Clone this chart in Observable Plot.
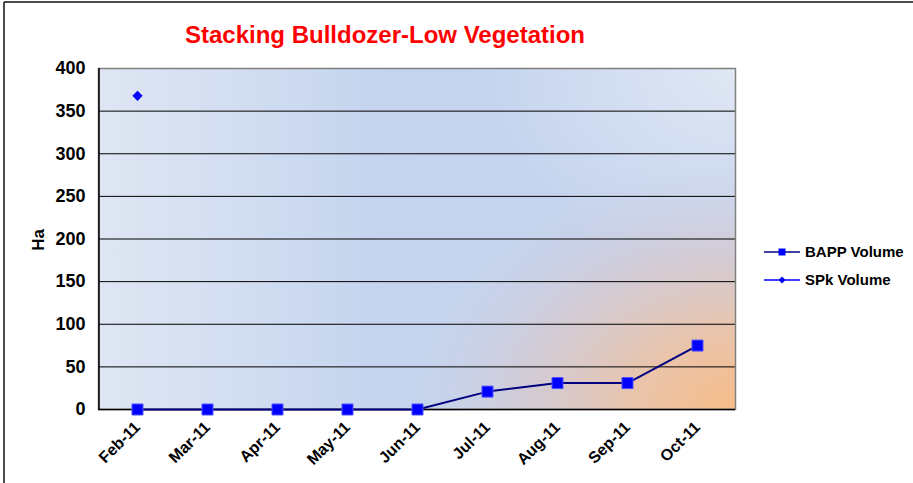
<!DOCTYPE html>
<html>
<head>
<meta charset="utf-8">
<script src="https://cdn.jsdelivr.net/npm/d3@7"></script>
<script src="https://cdn.jsdelivr.net/npm/@observablehq/plot@0.6"></script>
<style>
  html, body { margin: 0; padding: 0; background: #fff; }
  #chart svg { display: block; }
</style>
</head>
<body>
<div id="chart"></div>
<script>
const months = ["Feb-11", "Mar-11", "Apr-11", "May-11", "Jun-11", "Jul-11", "Aug-11", "Sep-11", "Oct-11"];
const bappVolume = [0, 0, 0, 0, 0, 21, 31, 31, 75];
const spkVolume = [368, null, null, null, null, null, null, null, null];
const yTicks = [0, 50, 100, 150, 200, 250, 300, 350, 400];
const seriesNames = ["BAPP Volume", "SPk Volume"];
const titleText = "Stacking Bulldozer-Low Vegetation";
const yLabel = "Ha";

const bapp = months.map((m, i) => ({month: m, value: bappVolume[i]}));
const spk = months.map((m, i) => ({month: m, value: spkVolume[i]})).filter(d => d.value != null);

const FONT = "Liberation Sans, Arial, sans-serif";

const defsMark = () => {
  const g = d3.create("svg:defs");
  const lin = g.append("linearGradient").attr("id", "bgLin").attr("x1", "0").attr("y1", "0").attr("x2", "1").attr("y2", "0");
  lin.append("stop").attr("offset", "0").attr("stop-color", "#dfe6f3");
  lin.append("stop").attr("offset", "0.45").attr("stop-color", "#c4d4ee");
  lin.append("stop").attr("offset", "1").attr("stop-color", "#c4d3ee");
  const tr = g.append("radialGradient").attr("id", "bgTR").attr("gradientUnits", "userSpaceOnUse")
    .attr("cx", 0).attr("cy", 0).attr("r", 1).attr("gradientTransform", "translate(735,68) scale(260,200)");
  tr.append("stop").attr("offset", "0").attr("stop-color", "#e0e7f4").attr("stop-opacity", 1);
  tr.append("stop").attr("offset", "1").attr("stop-color", "#e0e7f4").attr("stop-opacity", 0);
  const rad = g.append("radialGradient").attr("id", "bgRad").attr("gradientUnits", "userSpaceOnUse")
    .attr("cx", 0).attr("cy", 0).attr("r", 1).attr("gradientTransform", "translate(740,412) scale(350,260)");
  rad.append("stop").attr("offset", "0").attr("stop-color", "#f8bc86").attr("stop-opacity", 1);
  rad.append("stop").attr("offset", "0.3").attr("stop-color", "#ecc3a6").attr("stop-opacity", 0.95);
  rad.append("stop").attr("offset", "0.65").attr("stop-color", "#d6c9d0").attr("stop-opacity", 0.7);
  rad.append("stop").attr("offset", "1").attr("stop-color", "#c8d3ea").attr("stop-opacity", 0);
  return g.node();
};

const chart = Plot.plot({
  width: 913,
  height: 483,
  marginLeft: 98,
  marginRight: 178,
  marginTop: 68,
  marginBottom: 74,
  style: {fontFamily: FONT, background: "#fff"},
  x: {type: "band", domain: months, padding: 0, label: null},
  y: {domain: [0, 400], ticks: yTicks, label: null},
  marks: [
    defsMark,
    Plot.frame({fill: "url(#bgLin)", stroke: "none"}),
    Plot.frame({fill: "url(#bgTR)", stroke: "none"}),
    Plot.frame({fill: "url(#bgRad)", stroke: "none"}),
    Plot.ruleY(yTicks.filter(t => t > 0 && t < 400), {stroke: "#000", strokeWidth: 1}),
    Plot.frame({stroke: "#808080", strokeWidth: 1.5}),
    Plot.ruleY([0], {stroke: "#000", strokeWidth: 1.5}),
    Plot.axisY({ticks: yTicks, tickSize: 0, tickPadding: 13, fontSize: 18, fontWeight: "bold", fill: "#000", label: null}),
    Plot.axisX({tickSize: 0, tickRotate: -45, tickPadding: 15, fontSize: 16, fontWeight: "bold", fill: "#000", label: null}),
    Plot.line(bapp, {x: "month", y: "value", stroke: "#000080", strokeWidth: 2}),
    Plot.dot(bapp, {x: "month", y: "value", symbol: "square", r: 6.2, fill: "#0000ff", stroke: "#4d4dff", strokeWidth: 1}),
    Plot.dot(spk, {x: "month", y: "value", symbol: "square", rotate: 45, r: 4.1, fill: "#0000ff", stroke: "none"})
  ]
});

const svg = d3.select(chart);
svg.select('g[aria-label="y-axis tick label"]').attr("font-size", 18).attr("font-weight", "bold");
svg.select('g[aria-label="x-axis tick label"]').attr("font-size", 16).attr("font-weight", "bold");
// left axis line
svg.append("line").attr("x1", 99).attr("x2", 99).attr("y1", 68).attr("y2", 409).attr("stroke", "#000").attr("stroke-width", 1.5);
// outer border (top and left)
svg.append("line").attr("x1", 4).attr("x2", 913).attr("y1", 2).attr("y2", 2).attr("stroke", "#111").attr("stroke-width", 1.5);
svg.append("line").attr("x1", 4).attr("x2", 4).attr("y1", 2).attr("y2", 483).attr("stroke", "#111").attr("stroke-width", 1.5);
// title
svg.append("text").attr("x", 385).attr("y", 43).attr("text-anchor", "middle")
  .attr("font-family", FONT).attr("font-size", 24).attr("font-weight", "bold").attr("fill", "#ff0000")
  .text(titleText);
// y label
svg.append("text").attr("transform", "translate(44,240) rotate(-90)").attr("text-anchor", "middle")
  .attr("font-family", FONT).attr("font-size", 17).attr("font-weight", "bold").attr("fill", "#000")
  .text(yLabel);
// legend
const lg = svg.append("g").attr("font-family", FONT).attr("font-size", 15).attr("font-weight", "bold").attr("text-anchor", "start");
[[seriesNames[0], "#000080", "square", 252], [seriesNames[1], "#0000ff", "diamond", 280]].forEach(([name, col, sym, y]) => {
  lg.append("line").attr("x1", 764).attr("x2", 800).attr("y1", y).attr("y2", y).attr("stroke", col).attr("stroke-width", 1.5);
  if (sym === "square") {
    lg.append("rect").attr("x", 778.5).attr("y", y - 3.5).attr("width", 7).attr("height", 7).attr("fill", "#0000ff");
  } else {
    lg.append("rect").attr("x", -2.5).attr("y", -2.5).attr("width", 5).attr("height", 5)
      .attr("transform", `translate(782,${y}) rotate(45)`).attr("fill", "#0000ff");
  }
  lg.append("text").attr("x", 805).attr("y", y).attr("dy", "0.36em").attr("fill", "#000").attr("text-anchor", "start").text(name);
});

document.getElementById("chart").appendChild(chart);
</script>
</body>
</html>
